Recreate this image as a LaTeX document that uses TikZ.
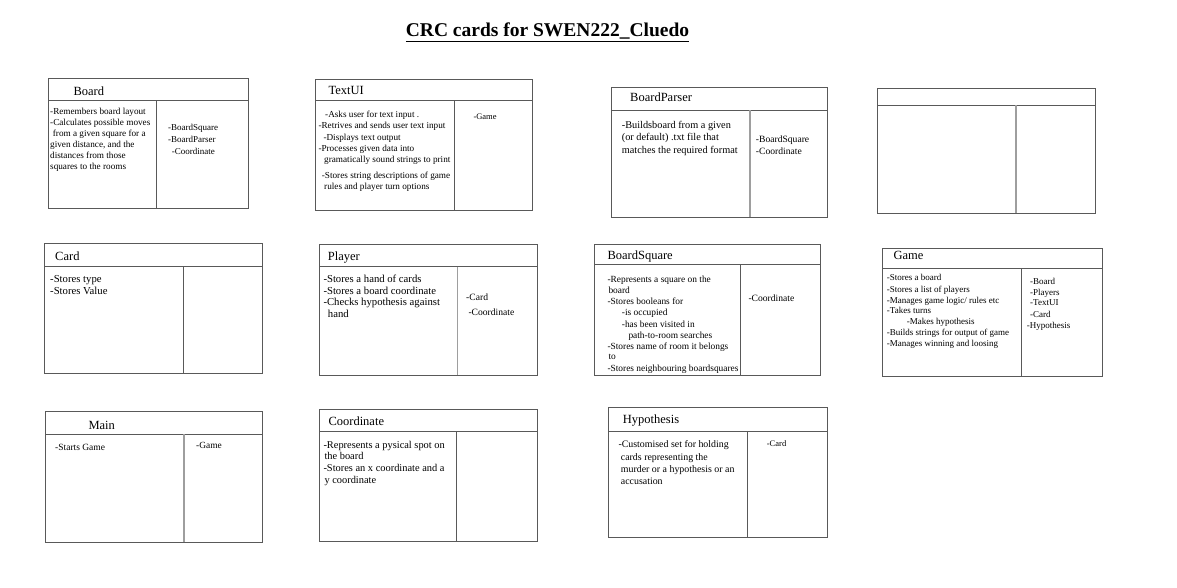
\documentclass[tikz,border=0pt]{standalone}
\usepackage{fontspec}
\setmainfont{Liberation Serif}
\newcommand\fsz[1]{\fontsize{#1}{#1}\selectfont}
\newcommand\crcbox[6]{%
  \draw[cardline] (#1,#2) rectangle (#3,#4);
  \draw[cardline] (#1,#5) -- (#3,#5);
  \draw[divline] (#6,#5) -- (#6,#4);
}
\newcommand\tl[4][]{\node[txt,#1] (#2) at #3 {#4};}
\tikzset{
  cardline/.style={draw=black!65, line width=0.9pt},
  divline/.style={draw=black!65, line width=0.9pt},
  lightdiv/.style={draw=black!38, line width=1.3pt},
  txt/.style={anchor=base west, inner sep=0pt, text=black, font=\fsz{9.2}},
  ttl/.style={anchor=base west, inner sep=0pt, text=black, font=\fsz{12.5}},
}
\begin{document}
\begin{tikzpicture}[x=1pt,y=-1pt]
\useasboundingbox[fill=white] (0,0) rectangle (1177,587);

% main title
\node[anchor=base, inner sep=0pt, font=\fontsize{19.5}{22}\selectfont\bfseries] (title) at (547.5,36.7) {\underline{CRC cards for SWEN222\_Cluedo}};

% ---------- Board ----------
\crcbox{48.3}{78}{248}{208.5}{100}{156.7}
\tl[ttl]{boT}{(73.3,95)}{Board}
\tl{bo1}{(50,114.5)}{-Remembers board layout}
\tl{bo2}{(50,125.5)}{-Calculates possible moves}
\tl{bo3}{(52.7,136.5)}{from a given square for a}
\tl{bo4}{(50,147.5)}{given distance, and the}
\tl{bo5}{(50,158.5)}{distances from those}
\tl{bo6}{(50,169.5)}{squares to the rooms}
\tl[font=\fsz{9}]{boc1}{(168,130)}{-BoardSquare}
\tl[font=\fsz{9}]{boc2}{(168,142)}{-BoardParser}
\tl[font=\fsz{9}]{boc3}{(171.7,154)}{-Coordinate}

% ---------- TextUI ----------
\crcbox{315}{79}{532.7}{210}{100}{454}
\tl[ttl]{tuT}{(328.3,94)}{TextUI}
\tl{tu1}{(325,117.5)}{-Asks user for text input .}
\tl{tu2}{(318.3,128.5)}{-Retrives and sends user text input}
\tl{tu3}{(323.3,140)}{-Displays text output}
\tl{tu4}{(318.3,151.5)}{-Processes given data into}
\tl{tu5}{(324,162.5)}{gramatically sound strings to print}
\tl{tu6}{(321.7,178)}{-Stores string descriptions of game}
\tl{tu7}{(324,189.5)}{rules and player turn options}
\tl[font=\fsz{8.5}]{tuc1}{(473.3,119)}{-Game}

% ---------- BoardParser ----------
\draw[cardline] (611.7,87.3) rectangle (827.7,217.3);
\draw[cardline] (611.7,110) -- (827.7,110);
\draw[lightdiv] (750,110) -- (750,217.3);
\tl[ttl]{bpT}{(630,101.7)}{BoardParser}
\begin{scope}[txt/.append style={font=\fsz{10.3}}]
\tl{bp1}{(621.7,128)}{-Buildsboard from a given}
\tl{bp2}{(621.7,140.5)}{(or default) .txt file that}
\tl{bp3}{(621.7,153)}{matches the required format}
\end{scope}
\tl[font=\fsz{9.6}]{bpc1}{(755.7,142.5)}{-BoardSquare}
\tl[font=\fsz{9.6}]{bpc2}{(755.7,154)}{-Coordinate}

% ---------- empty card ----------
\draw[cardline] (877.3,88) rectangle (1095.7,213.3);
\draw[cardline] (877.3,105) -- (1095.7,105);
\draw[lightdiv] (1016,105) -- (1016,213.3);

% ---------- Card ----------
\crcbox{44}{243.3}{262.3}{373.3}{266.7}{183.3}
\tl[ttl]{caT}{(55,260)}{Card}
\begin{scope}[txt/.append style={font=\fsz{10.7}}]
\tl{ca1}{(50,282)}{-Stores type}
\tl{ca2}{(50,294)}{-Stores Value}
\end{scope}

% ---------- Player ----------
\draw[cardline] (319,244) rectangle (537.7,375);
\draw[cardline] (319,266.7) -- (537.7,266.7);
\draw[lightdiv] (457.7,266.7) -- (457.7,375);
\tl[ttl]{plT}{(327.7,260)}{Player}
\begin{scope}[txt/.append style={font=\fsz{10.7}}]
\tl{pl1}{(323.3,282.5)}{-Stores a hand of cards}
\tl{pl2}{(323.3,294)}{-Stores a board coordinate}
\tl{pl3}{(323.3,305.5)}{-Checks hypothesis against}
\tl{pl4}{(327.7,317)}{hand}
\end{scope}
\tl[font=\fsz{9.6}]{plc1}{(466,300)}{-Card}
\tl[font=\fsz{9.6}]{plc2}{(468.3,315)}{-Coordinate}

% ---------- BoardSquare ----------
\crcbox{594}{244}{820}{375}{264}{740.7}
\tl[ttl]{bsT}{(607.3,259)}{BoardSquare}
\begin{scope}[txt/.append style={font=\fsz{9.4}}]
\tl{bs1}{(607.3,282.3)}{-Represents a square on the}
\tl{bs2}{(608.3,293.7)}{board}
\tl{bs3}{(607.3,304.7)}{-Stores booleans for}
\tl{bs4}{(621.7,315.7)}{-is occupied}
\tl{bs5}{(621.7,327)}{-has been visited in}
\tl{bs6}{(628.3,338)}{path-to-room searches}
\tl{bs7}{(607.3,349)}{-Stores name of room it belongs}
\tl{bs8}{(608.3,359.7)}{to}
\tl{bs9}{(607.3,371)}{-Stores neighbouring boardsquares}
\end{scope}
\tl[font=\fsz{9.6}]{bsc1}{(748.3,301.5)}{-Coordinate}

% ---------- Game ----------
\crcbox{882.3}{248.3}{1102.3}{376}{268.3}{1021.7}
\tl[ttl]{gaT}{(893.3,259.3)}{Game}
\begin{scope}[txt/.append style={font=\fsz{9}}]
\tl{ga1}{(886.7,280.3)}{-Stores a board}
\tl{ga2}{(886.7,292)}{-Stores a list of players}
\tl{ga3}{(886.7,303)}{-Manages game logic/ rules etc}
\tl{ga4}{(886.7,313.7)}{-Takes turns}
\tl{ga5}{(906.7,324)}{-Makes hypothesis}
\tl{ga6}{(886.7,335.7)}{-Builds strings for output of game}
\tl{ga7}{(886.7,346.3)}{-Manages winning and loosing}
\tl{gac1}{(1030,284.7)}{-Board}
\tl{gac2}{(1030,295.7)}{-Players}
\tl{gac3}{(1030,305.7)}{-TextUI}
\tl{gac4}{(1030,317)}{-Card}
\tl{gac5}{(1026.7,328)}{-Hypothesis}
\end{scope}

% ---------- Main ----------
\draw[cardline] (45,411.7) rectangle (262.3,542.3);
\draw[cardline] (45,434.3) -- (262.3,434.3);
\draw[lightdiv] (184,434.3) -- (184,542.3);
\tl[ttl]{maT}{(88.3,429.5)}{Main}
\tl[font=\fsz{9.5}]{ma1}{(55,450.5)}{-Starts Game}
\tl[font=\fsz{9.4}]{mac1}{(196,448.5)}{-Game}

% ---------- Coordinate ----------
\crcbox{319}{409}{537.7}{541}{431.7}{456.7}
\tl[ttl]{coT}{(328.3,425)}{Coordinate}
\begin{scope}[txt/.append style={font=\fsz{10.4}}]
\tl{co1}{(323.3,448)}{-Represents a pysical spot on}
\tl{co2}{(324.3,459.3)}{the board}
\tl{co3}{(323.3,471)}{-Stores an x coordinate and a}
\tl{co4}{(324.3,483)}{y coordinate}
\end{scope}

% ---------- Hypothesis ----------
\crcbox{608.3}{407.3}{827.3}{537.3}{431.7}{747.3}
\tl[ttl]{hyT}{(622.7,423.3)}{Hypothesis}
\begin{scope}[txt/.append style={font=\fsz{9.9}}]
\tl{hy1}{(618.3,447.3)}{-Customised set for holding}
\tl{hy2}{(620.7,460)}{cards representing the}
\tl{hy3}{(620.7,472.5)}{murder or a hypothesis or an}
\tl{hy4}{(620.7,484.5)}{accusation}
\end{scope}
\tl[font=\fsz{8.5}]{hyc1}{(766.7,446)}{-Card}
\end{tikzpicture}
\end{document}
